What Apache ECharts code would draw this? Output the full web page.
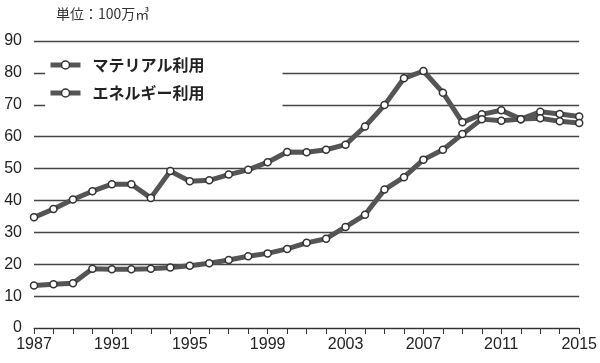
<!DOCTYPE html>
<html><head><meta charset="utf-8">
<script src="https://cdn.jsdelivr.net/npm/echarts@6/dist/echarts.min.js"></script>
<style>html,body{margin:0;padding:0;background:#fff}#c{width:600px;height:363px}</style>
</head><body><div id="c"></div>
<script>
const years = ['1987','1988','1989','1990','1991','1992','1993','1994','1995','1996','1997','1998','1999','2000','2001','2002','2003','2004','2005','2006','2007','2008','2009','2010','2011','2012','2013','2014','2015'];
const materialUse = [34.7,37.3,40.3,42.9,45.1,45.1,40.8,49.2,46.0,46.3,48.1,49.6,52.0,55.2,55.1,55.9,57.5,63.2,69.9,78.3,80.6,73.8,64.5,67.0,68.3,65.5,67.8,67.1,66.3];
const energyUse = [13.3,13.7,14.0,18.6,18.4,18.4,18.6,19.0,19.5,20.3,21.3,22.5,23.4,24.8,26.7,28.0,31.7,35.5,43.4,47.3,52.8,55.9,60.8,65.5,65.0,65.5,65.8,64.8,64.3];
const seriesNames = ['マテリアル利用','エネルギー利用'];
const unitLabel = '単位：100万㎥';

const chart = echarts.init(document.getElementById('c'));
const lineColor = '#555555';
function mk(name, data){
  return {
    name, type:'line', data,
    symbol:'circle', symbolSize:7,
    lineStyle:{color:lineColor, width:5},
    itemStyle:{color:'#fff', borderColor:'#333', borderWidth:1.5},
    emphasis:{disabled:true}
  };
}
chart.setOption({
  animation:false,
  title:{text:unitLabel, left:51, top:2, textStyle:{fontFamily:'Noto Sans CJK JP', fontSize:14, fontWeight:'normal', color:'#333'}},
  legend:{
    orient:'vertical', left:45, top:53,
    backgroundColor:'#fff',
    padding:[4,78,6,3],
    itemWidth:30, itemHeight:10, itemGap:12,
    data:seriesNames,
    lineStyle:{width:5, color:lineColor},
    itemStyle:{color:'#fff', borderColor:'#333', borderWidth:1.5},
    textStyle:{fontFamily:'Noto Sans CJK JP', fontSize:16, fontWeight:'bold', color:'#222', padding:[0,0,0,7]}
  },
  grid:{left:34, right:20, top:41, bottom:35},
  xAxis:{
    type:'category', data:years, boundaryGap:false,
    axisLine:{lineStyle:{color:'#333', width:1}},
    axisTick:{show:true, interval:0, length:6, lineStyle:{color:'#333'}},
    axisLabel:{interval:3, fontFamily:'Liberation Sans', fontSize:16, color:'#222', margin:9},
    splitLine:{show:false}
  },
  yAxis:{
    type:'value', min:0, max:90, interval:10,
    axisLine:{show:false}, axisTick:{show:false},
    axisLabel:{fontFamily:'Liberation Sans', fontSize:16, color:'#222', margin:12},
    splitLine:{lineStyle:{color:'#444', width:1.3}}
  },
  series:[mk(seriesNames[0], materialUse), mk(seriesNames[1], energyUse)]
});
</script></body></html>
